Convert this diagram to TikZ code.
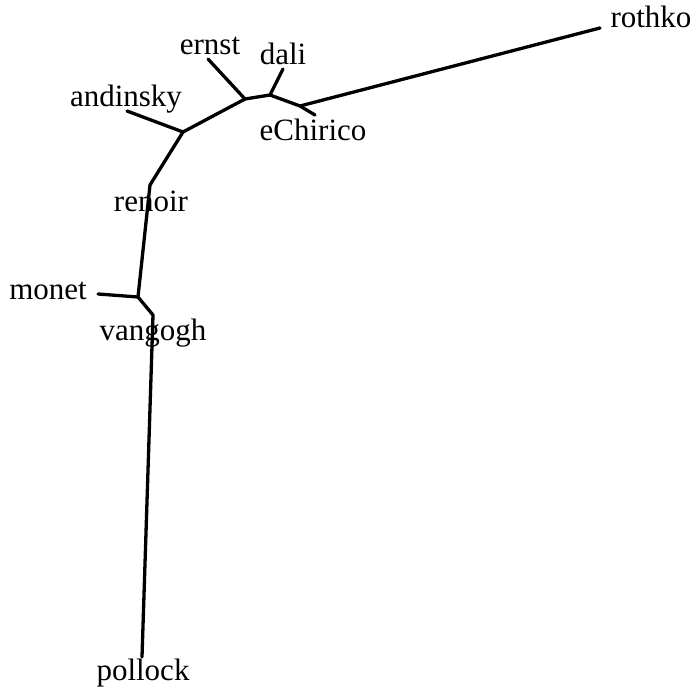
\documentclass[tikz,border=0pt]{standalone}
\usepackage{fontspec}
\setmainfont{Liberation Serif}
\usetikzlibrary{positioning}

\begin{document}
\begin{tikzpicture}[
    x=1pt, y=-1pt,
    every node/.style={font=\fontsize{31}{36}\selectfont},
    painter/.style={inner sep=0pt, anchor=base},
    branch/.style={line width=3.3pt, line join=round, line cap=round},
]
\useasboundingbox (0,0) rectangle (694,687);

% --- names of the painters ---
\node[painter] (t-rothko)   at (651,28)  {rothko};
\node[painter] (t-ernst)    at (210,55)  {ernst};
\node[painter] (t-dali)     at (283,65)  {dali};
\node[painter] (t-andinsky) at (126,107) {andinsky};
\node[painter] (t-echirico) at (313,141) {eChirico};
\node[painter] (t-renoir)   at (151,212) {renoir};
\node[painter] (t-monet)    at (48,300)  {monet};
\node[painter] (t-vangogh)  at (153,341) {vangogh};
\node[painter] (t-pollock)  at (143,680) {pollock};

% --- leaf ends ---
\coordinate (rothko)   at (600,28);
\coordinate (ernst)    at (208,59);
\coordinate (dali)     at (283,69);
\coordinate (andinsky) at (127,111);
\coordinate (echirico) at (315,115);
\coordinate (renoir)   at (150,185);
\coordinate (monet)    at (98,294);
\coordinate (pollock)  at (142,657);

% --- inner points ---
\coordinate (j1) at (183,132);
\coordinate (j2) at (245,99);
\coordinate (j3) at (270,95);
\coordinate (j4) at (300,106);
\coordinate (j5) at (138,297);
\coordinate (j6) at (153,315);

% --- branches ---
\draw[branch] (andinsky) -- (j1);
\draw[branch] (j1) -- (j2);
\draw[branch] (j2) -- (ernst);
\draw[branch] (j2) -- (j3);
\draw[branch] (j3) -- (dali);
\draw[branch] (j3) -- (j4);
\draw[branch] (j4) -- (echirico);
\draw[branch] (j4) -- (rothko);
\draw[branch] (j1) -- (renoir);
\draw[branch] (renoir) -- (j5);
\draw[branch] (j5) -- (monet);
\draw[branch] (j5) -- (j6);
\draw[branch] (j6) -- (pollock);

\end{tikzpicture}
\end{document}
